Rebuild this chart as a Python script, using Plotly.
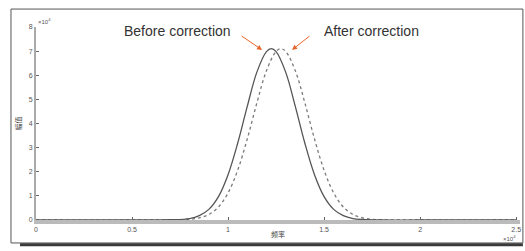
import plotly.graph_objects as go

before_x = [0.0, 0.5, 0.7, 0.8, 0.85, 0.9, 0.95, 1.0, 1.05, 1.1, 1.15, 1.2, 1.225, 1.25, 1.3,
            1.35, 1.4, 1.45, 1.5, 1.55, 1.6, 1.65, 1.7, 1.8, 2.0, 2.5]
before_vals = [0.0, 0.0, 0.01, 0.06, 0.18, 0.44, 0.97, 1.88, 3.18, 4.71, 6.13, 6.98, 7.1, 6.98, 6.13,
               4.71, 3.18, 1.88, 0.97, 0.44, 0.18, 0.06, 0.02, 0.0, 0.0, 0.0]
after_x = [0.0, 0.5, 0.7, 0.8, 0.85, 0.9, 0.95, 1.0, 1.05, 1.1, 1.15, 1.2, 1.25, 1.275, 1.3,
           1.35, 1.4, 1.45, 1.5, 1.55, 1.6, 1.65, 1.7, 1.75, 1.8, 2.0, 2.5]
after_vals = [0.0, 0.0, 0.01, 0.03, 0.09, 0.23, 0.54, 1.12, 2.06, 3.36, 4.85, 6.19, 6.99, 7.1, 6.99,
              6.19, 4.85, 3.36, 2.06, 1.12, 0.54, 0.23, 0.09, 0.03, 0.01, 0.0, 0.0]
x_ticks = [0, 0.5, 1, 1.5, 2, 2.5]
x_tick_text = ["0", "0.5", "1", "1.5", "2", "2.5"]
y_ticks = [0, 1, 2, 3, 4, 5, 6, 7, 8]

fig = go.Figure()
fig.add_trace(go.Scatter(x=after_x, y=after_vals, mode="lines",
                         line=dict(color="#7a7a7a", width=1.3, dash="dot", shape="spline"), name="After correction"))
fig.add_trace(go.Scatter(x=before_x, y=before_vals, mode="lines",
                         line=dict(color="#555", width=1.3, shape="spline"), name="Before correction"))

fig.update_layout(
    width=525, height=251,
    margin=dict(l=36, r=5, t=27, b=31, autoexpand=False),
    paper_bgcolor="white", plot_bgcolor="white",
    showlegend=False,
    font=dict(family="Liberation Sans, Arial", color="#444"),
)
fig.update_xaxes(range=[0, 2.52], tickvals=x_ticks, ticktext=x_tick_text, ticks="inside", ticklen=3,
                 tickcolor="#666", tickfont=dict(size=7, color="#555"), showgrid=False, zeroline=False,
                 showline=True, linecolor="#bbb", linewidth=4, automargin=False, ticklabeloverflow="allow",
                 title=dict(text="频率", font=dict(size=7, family="Noto Sans CJK SC", color="#444"), standoff=1))
fig.update_yaxes(range=[0, 8], tickvals=y_ticks, ticks="inside", ticklen=3, tickcolor="#666",
                 tickfont=dict(size=7, color="#555"), showgrid=False, zeroline=False,
                 showline=True, linecolor="#aaa", linewidth=2, automargin=False,
                 title=dict(text="幅值", font=dict(size=7, family="Noto Sans CJK SC", color="#444"), standoff=6))

# frame
frame = [(-0.0517, 1.093, 1.006, 1.093), (-0.0517, -0.119, -0.0517, 1.093), (1.006, -0.119, 1.006, 1.093),
         (-0.0517, -0.119, 1.006, -0.119)]
for x0, y0, x1, y1 in frame:
    fig.add_shape(type="line", xref="paper", yref="paper", x0=x0, x1=x1, y0=y0, y1=y1, layer="above",
                  line=dict(color="#555", width=1))
fig.add_shape(type="line", xref="paper", yref="paper", x0=-0.033, x1=1.006, y0=-0.128, y1=-0.128, layer="above",
              line=dict(color="#3a3a3a", width=3))

# exponent labels
fig.add_annotation(xref="paper", yref="paper", x=0.0, y=1.0, text="×10<sup>4</sup>", showarrow=False,
                   xanchor="left", yanchor="bottom", font=dict(size=6, color="#555"))
fig.add_annotation(xref="paper", yref="paper", x=0.995, y=-0.06, text="×10<sup>4</sup>", showarrow=False,
                   xanchor="right", yanchor="top", font=dict(size=6, color="#555"))

# text labels and arrows
fig.add_annotation(xref="paper", yref="paper", x=0.293, y=1.03, xanchor="center", text="Before correction",
                   showarrow=False, font=dict(size=14, color="#333"))
fig.add_annotation(xref="paper", yref="paper", x=0.693, y=1.03, xanchor="center", text="After correction",
                   showarrow=False, font=dict(size=14, color="#333"))
fig.add_annotation(x=1.177, y=7.05, ax=-22, ay=-15, axref="pixel", ayref="pixel", text="", showarrow=True,
                   arrowhead=2, arrowsize=1, arrowwidth=1, arrowcolor="#e8642a")
fig.add_annotation(x=1.333, y=7.05, ax=19, ay=-15, axref="pixel", ayref="pixel", text="", showarrow=True,
                   arrowhead=2, arrowsize=1, arrowwidth=1, arrowcolor="#e8642a")

fig.write_html("out.html", config={"displayModeBar": False},
               post_script="document.body.style.margin='0px';")
